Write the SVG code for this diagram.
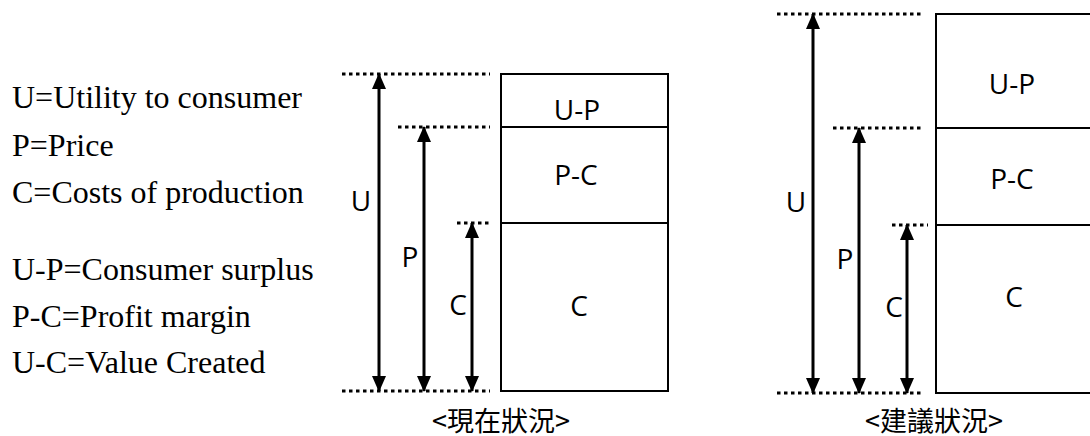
<svg xmlns="http://www.w3.org/2000/svg" width="1090" height="436" viewBox="0 0 1090 436">
<style>
.serif{font-family:"Liberation Serif","Times New Roman",serif;font-size:32px;fill:#000}
.lbl{font-family:"Open Sans","Noto Sans",sans-serif;font-size:28px;fill:#000}
.cap{font-family:"Noto Sans CJK TC","Noto Sans",sans-serif;font-size:27px;fill:#000}
.box{fill:none;stroke:#000;stroke-width:2}
.div{stroke:#000;stroke-width:2}
.dot{stroke:#000;stroke-width:3.2;stroke-dasharray:3.5 3.5;fill:none}
.arr{stroke:#000;stroke-width:3;marker-start:url(#ah);marker-end:url(#ah)}
</style>
<defs>
<marker id="ah" markerUnits="userSpaceOnUse" viewBox="0 0 16 14" refX="15" refY="7" markerWidth="16" markerHeight="14" orient="auto-start-reverse">
<path d="M0,0 L16,7 L0,14 Z" fill="#000"/>
</marker>
</defs>
<rect width="1090" height="436" fill="#fff"/>
<g id="legend">
<text class="serif" x="12" y="108">U=Utility to consumer</text>
<text class="serif" x="12" y="156">P=Price</text>
<text class="serif" x="12" y="203">C=Costs of production</text>
<text class="serif" x="12" y="280">U-P=Consumer surplus</text>
<text class="serif" x="12" y="327">P-C=Profit margin</text>
<text class="serif" x="12" y="373">U-C=Value Created</text>
</g>
<g id="current-bar">
<rect class="box" x="501" y="74" width="167" height="317"/>
<line class="div" x1="501" y1="127" x2="668" y2="127"/>
<line class="div" x1="501" y1="223" x2="668" y2="223"/>
<text class="lbl" x="577" y="120" text-anchor="middle">U-P</text>
<text class="lbl" x="576" y="185" text-anchor="middle">P-C</text>
<text class="lbl" x="579" y="316" text-anchor="middle">C</text>
</g>
<g id="proposed-bar">
<rect class="box" x="936" y="14" width="160" height="379"/>
<line class="div" x1="936" y1="128" x2="1096" y2="128"/>
<line class="div" x1="936" y1="225" x2="1096" y2="225"/>
<text class="lbl" x="1012" y="94" text-anchor="middle">U-P</text>
<text class="lbl" x="1012" y="189" text-anchor="middle">P-C</text>
<text class="lbl" x="1014" y="307" text-anchor="middle">C</text>
</g>
<g id="current-labels">
<text class="lbl" x="361" y="211" text-anchor="middle">U</text>
<text class="lbl" x="410" y="267" text-anchor="middle">P</text>
<text class="lbl" x="458" y="315" text-anchor="middle">C</text>
<text class="cap" x="432" y="431">&lt;現在狀況&gt;</text>
</g>
<g id="proposed-labels">
<text class="lbl" x="796" y="212" text-anchor="middle">U</text>
<text class="lbl" x="845" y="269" text-anchor="middle">P</text>
<text class="lbl" x="894" y="317" text-anchor="middle">C</text>
<text class="cap" x="865" y="431">&lt;建議狀況&gt;</text>
</g>
<g id="connectors">
<line class="dot" x1="342" y1="74" x2="490" y2="74"/>
<line class="dot" x1="398" y1="127" x2="490" y2="127"/>
<line class="dot" x1="457" y1="223" x2="492" y2="223"/>
<line class="dot" x1="342" y1="391" x2="490" y2="391"/>
<line class="arr" x1="379" y1="74" x2="379" y2="391"/>
<line class="arr" x1="424" y1="127" x2="424" y2="391"/>
<line class="arr" x1="472" y1="223" x2="472" y2="391"/>
<line class="dot" x1="777" y1="14" x2="924" y2="14"/>
<line class="dot" x1="833" y1="128" x2="924" y2="128"/>
<line class="dot" x1="892" y1="225" x2="928" y2="225"/>
<line class="dot" x1="777" y1="393" x2="924" y2="393"/>
<line class="arr" x1="813" y1="14" x2="813" y2="393"/>
<line class="arr" x1="859" y1="128" x2="859" y2="393"/>
<line class="arr" x1="907" y1="225" x2="907" y2="393"/>
</g>
</svg>
